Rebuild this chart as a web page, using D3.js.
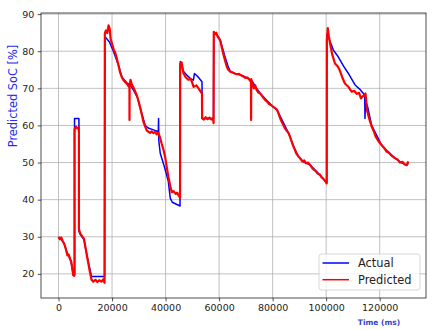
<!DOCTYPE html>
<html>
<head>
<meta charset="utf-8">
<script src="https://cdn.jsdelivr.net/npm/d3@7"></script>
<style>
  body { margin: 0; background: #fff; }
  svg { display: block; font-family: "DejaVu Sans", sans-serif; }
</style>
</head>
<body>
<svg id="canvas" width="438" height="329"></svg>
<script>
(function () {

    // Data (time in ms, SoC in %).
    var actualTime = [0, 800, 2000, 3250, 4500, 5400, 5700, 5980, 5980, 7620, 7620, 8220, 9500, 10100, 11350, 12340, 17200,
        17300, 19000, 20500, 22500, 23700, 25500, 26600, 28000, 29500, 31000, 32400, 33500, 35500, 37300, 37380, 37450, 38000, 39500, 41000, 41750, 42500, 45400,
        45500, 46700, 48000, 49500, 50400, 50800, 52000, 53600, 53700, 57900,
        58000, 59200, 60440, 62000, 63300, 64180, 66000, 68000, 69150, 71000, 72290, 73500, 75400, 77500, 79500, 81640, 83500, 85980, 88000, 89700, 91500, 94090, 96500, 98500, 99700, 100200,
        100250, 101000, 102700, 104500, 106500, 108300, 110800, 112500, 113900, 114400, 114500, 114700, 115500, 117000, 120700, 123000, 125700, 128000, 130100, 130700];
    var actualSoc = [29.8, 29.5, 28.3, 25.6, 23.8, 20.5, 19.7, 19.5, 61.9, 61.9, 31.5, 30.5, 29.2, 26.9, 22.4, 19.3, 19.3,
        84.0, 82.5, 80.0, 76.0, 73.0, 71.5, 71.0, 69.5, 67.5, 63.5, 60.0, 59.3, 58.8, 58.3, 61.9, 56.0, 52.5, 49.0, 45.0, 40.4, 39.3, 38.3,
        77.2, 74.5, 73.5, 72.5, 72.2, 74.0, 73.2, 71.8, 61.9, 61.9,
        85.2, 84.5, 83.0, 79.0, 76.0, 74.5, 74.0, 73.6, 73.3, 72.6, 72.0, 70.5, 68.6, 67.0, 65.5, 64.2, 61.5, 57.9, 54.0, 51.6, 50.2, 49.3, 47.5, 46.0, 44.9, 44.5,
        84.5, 83.5, 80.3, 78.5, 76.0, 74.0, 70.9, 69.8, 68.6, 67.8, 61.9, 66.5, 65.0, 60.0, 54.7, 53.0, 51.2, 50.0, 49.3, 49.8];

    var predTime = [0, 500, 1000, 1600, 2200, 2800, 3300, 3800, 4300, 4800, 5200, 5500, 5800, 5980, 5980, 6500, 7000, 7620, 7620, 8200, 8800, 9500, 10100, 10700, 11350, 11800, 12300, 13000, 13800, 14500, 15200, 16000, 16700, 17200,
        17300, 17700, 18200, 18700, 19100, 19500, 20000, 20600, 21200, 21800, 22400, 23000, 23700, 24300, 25000, 25600, 26200, 26500, 26520, 26560, 26900, 27400, 28000, 28600, 29300, 29900, 30500, 31100, 31700, 32400, 33000, 33600, 34200, 34800, 35500, 36100, 36700, 37300, 37900, 38500, 39200, 39900, 40500, 41100, 41700, 42300, 43000, 43700, 44300, 45000, 45400,
        45450, 46000, 46700, 47500, 48500, 49500, 50460, 51500, 52500, 53600, 53650, 54300, 55000, 55700, 56400, 57100, 57700, 57940,
        58000, 58400, 58900, 59400, 59900, 60440, 61000, 61600, 62200, 62800, 63400, 64200, 65000, 65800, 66600, 67400, 68200, 69000, 69800, 70600, 71400, 71900, 71950, 72000, 72500, 73000, 73500, 74000, 74600, 75400, 76200, 77000, 77800, 78600, 79400, 80200, 81000, 81640, 82300, 83000, 83700, 84400, 85200, 85980, 86700, 87400, 88100, 88800, 89700, 90400, 91100, 91800, 92500, 93200, 94090, 94800, 95500, 96200, 96900, 97600, 98300, 99000, 99700, 100200,
        100250, 100600, 101000, 101600, 102300, 103300, 104200, 105000, 106000, 107000, 108200, 109500, 110500, 111500, 112300, 113000, 113600, 114000, 114700, 115300, 116000, 117000, 117800, 118500, 119500, 120700, 121600, 122500, 123500, 124500, 125700, 126700, 127600, 128500, 129300, 130100, 130700];
    var predSoc = [30.0, 29.3, 29.8, 28.8, 28.0, 26.5, 25.0, 25.2, 24.0, 23.2, 21.0, 19.6, 19.5, 20.0, 59.0, 59.7, 59.2, 59.5, 32.0, 30.8, 30.2, 29.5, 27.0, 24.5, 22.0, 20.2, 18.5, 17.9, 18.4, 17.8, 18.3, 17.9, 18.5, 17.6,
        84.8, 85.6, 84.9, 87.0, 86.1, 83.2, 82.0, 80.5, 79.6, 78.0, 76.2, 74.3, 72.9, 72.2, 71.6, 71.2, 70.5, 70.2, 61.5, 70.8, 72.3, 71.0, 70.2, 69.2, 68.0, 66.5, 64.8, 63.0, 61.0, 59.6, 58.6, 58.3, 58.0, 58.4, 57.9, 58.3, 57.6, 58.0, 56.8, 55.2, 53.5, 51.2, 48.5, 46.0, 43.8, 42.0, 42.3, 41.6, 41.9, 41.0, 40.5,
        76.5, 77.0, 74.0, 73.0, 72.3, 72.5, 70.4, 70.8, 69.8, 68.6, 61.9, 61.6, 62.2, 61.7, 62.1, 61.6, 62.0, 60.6,
        85.2, 84.6, 85.0, 84.0, 83.5, 82.8, 81.0, 79.2, 77.5, 76.0, 75.0, 74.5, 74.3, 74.0, 73.8, 73.9, 73.5, 73.2, 72.8, 72.9, 72.2, 71.8, 61.5, 72.5, 71.2, 70.0, 70.8, 69.6, 68.9, 68.6, 67.8, 67.0, 66.5, 65.8, 65.5, 65.0, 64.6, 64.2, 63.0, 61.6, 60.5, 59.5, 58.6, 57.9, 56.5, 55.0, 53.8, 52.5, 51.6, 51.0, 50.3, 50.6, 49.8, 50.0, 49.3, 48.5, 48.0, 47.6, 47.0, 46.8, 46.0, 45.6, 45.0, 44.4,
        83.0, 86.2, 84.0, 81.5, 79.0, 76.7, 76.0, 75.0, 73.0, 71.3, 70.5, 69.1, 69.3, 68.5, 68.8, 67.3, 67.8, 68.0, 68.6, 64.0, 62.0, 59.7, 58.4, 57.0, 55.8, 54.7, 54.0, 53.0, 52.6, 51.8, 51.2, 50.8, 50.0, 50.2, 49.5, 49.3, 50.3];

    var xTicks = [0, 20000, 40000, 60000, 80000, 100000, 120000];
    var yTicks = [20, 30, 40, 50, 60, 70, 80, 90];
    var seriesNames = ["Actual", "Predicted"];
    var seriesColors = ["#0000ff", "#ff0000"];

    var padding = { top: 13, bottom: 31, left: 41, right: 12 };

    var svg = d3.select("#canvas");
    var width = +svg.attr("width") - padding.left - padding.right;
    var height = +svg.attr("height") - padding.top - padding.bottom;

    var xScale = d3.scaleLinear().domain([-6550, 137300]).range([0, width]);
    var yScale = d3.scaleLinear().domain([13.5, 90.3]).range([height, 0]);

    var g = svg.append("g")
        .attr("transform", "translate(" + padding.left + "," + padding.top + ")");

    // Grid lines.
    g.append("g")
        .selectAll("line")
        .data(xTicks)
        .join("line")
        .attr("x1", d => xScale(d)).attr("x2", d => xScale(d))
        .attr("y1", 0).attr("y2", height)
        .attr("stroke", "#b0b0b0").attr("stroke-width", 0.8);
    g.append("g")
        .selectAll("line")
        .data(yTicks)
        .join("line")
        .attr("x1", 0).attr("x2", width)
        .attr("y1", d => yScale(d)).attr("y2", d => yScale(d))
        .attr("stroke", "#b0b0b0").attr("stroke-width", 0.8);

    // Lines.
    var line = d3.line()
        .x(d => xScale(d[0]))
        .y(d => yScale(d[1]));

    g.append("path")
        .datum(actualTime.map((t, i) => [t, actualSoc[i]]))
        .attr("fill", "none")
        .attr("stroke", seriesColors[0])
        .attr("stroke-width", 1.5)
        .attr("stroke-linejoin", "round")
        .attr("d", line);
    g.append("path")
        .datum(predTime.map((t, i) => [t, predSoc[i]]))
        .attr("fill", "none")
        .attr("stroke", seriesColors[1])
        .attr("stroke-width", 2.2)
        .attr("stroke-linejoin", "round")
        .attr("d", line);

    // Axes.
    var xAxis = d3.axisBottom(xScale).tickValues(xTicks).tickFormat(d3.format("d"))
        .tickSize(3.3).tickPadding(3.3).tickSizeOuter(0);
    var yAxis = d3.axisLeft(yScale).tickValues(yTicks).tickFormat(d3.format("d"))
        .tickSize(3.3).tickPadding(3.3).tickSizeOuter(0);

    var gx = g.append("g").attr("transform", "translate(0," + height + ")").call(xAxis);
    var gy = g.append("g").call(yAxis);
    [gx, gy].forEach(function (a) {
        a.select(".domain").remove();
        a.selectAll("text").attr("font-family", "DejaVu Sans").attr("font-size", 9.5).attr("fill", "#222");
        a.selectAll("line").attr("stroke", "#222").attr("stroke-width", 0.8);
    });

    // Frame.
    g.append("rect")
        .attr("width", width).attr("height", height)
        .attr("fill", "none").attr("stroke", "#222").attr("stroke-width", 0.8);

    // Axis labels.
    svg.append("text")
        .attr("transform", "translate(17,96) rotate(-90)")
        .attr("text-anchor", "middle")
        .attr("font-size", 11.4)
        .attr("fill", "#2a2aee")
        .text("Predicted SoC [%]");
    svg.append("text")
        .attr("x", 379)
        .attr("y", 325)
        .attr("text-anchor", "middle")
        .attr("font-size", 7.5)
        .attr("font-weight", "bold")
        .attr("fill", "#3344cc")
        .text("Time (ms)");

    // Legend.
    var legend = g.append("g")
        .attr("transform", "translate(" + (width - 107) + "," + (height - 44) + ")");
    legend.append("rect")
        .attr("width", 101).attr("height", 36).attr("rx", 2.5)
        .attr("fill", "#fff").attr("fill-opacity", 0.8)
        .attr("stroke", "#cccccc").attr("stroke-width", 0.8);
    seriesNames.forEach(function (name, i) {
        var y = 9 + i * 16.7;
        legend.append("line")
            .attr("x1", 3.5).attr("x2", 30)
            .attr("y1", y).attr("y2", y)
            .attr("stroke", seriesColors[i]).attr("stroke-width", 1.5);
        legend.append("text")
            .attr("x", 39).attr("y", y)
            .attr("dy", "0.35em")
            .attr("font-size", 11.4)
            .attr("fill", "#222")
            .text(name);
    });

})();
</script>
</body>
</html>
